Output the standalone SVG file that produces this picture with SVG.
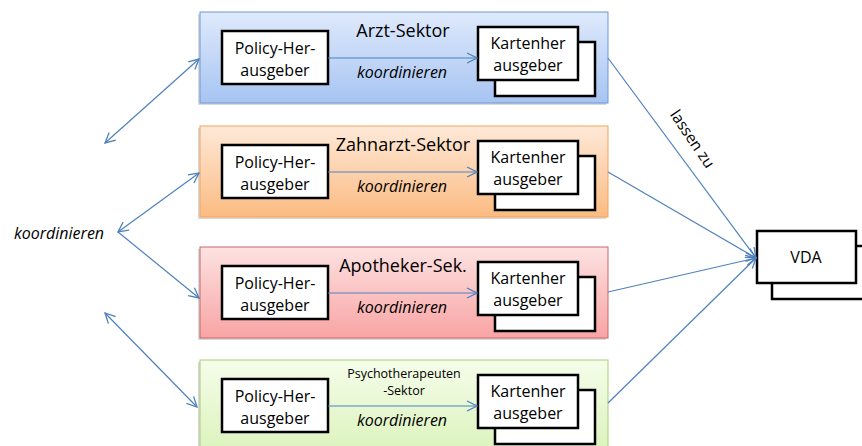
<svg xmlns="http://www.w3.org/2000/svg" width="862" height="446" viewBox="0 0 862 446">
<style>
text{font-family:"Open Sans","Liberation Sans",sans-serif;fill:#000}
.t{font-size:16px;text-anchor:middle}
.h{font-size:18px;text-anchor:middle}
.s{font-size:12.5px;text-anchor:middle}
.k{font-size:16px;font-style:italic;text-anchor:middle}
.box{fill:#fff;stroke:#000;stroke-width:2.5}
.sh{fill:#000;opacity:0.15}
.c{fill:none;stroke:#4f81bd;stroke-width:1.2}
</style>
<defs>
<linearGradient id="gb" x1="0" y1="0" x2="0" y2="1"><stop offset="0" stop-color="#dfeafc"/><stop offset="1" stop-color="#a7c4f2"/></linearGradient>
<linearGradient id="go" x1="0" y1="0" x2="0" y2="1"><stop offset="0" stop-color="#fee9d8"/><stop offset="1" stop-color="#fbbb82"/></linearGradient>
<linearGradient id="gr" x1="0" y1="0" x2="0" y2="1"><stop offset="0" stop-color="#fde2e2"/><stop offset="1" stop-color="#f9a4a4"/></linearGradient>
<linearGradient id="gg" x1="0" y1="0" x2="0" y2="1"><stop offset="0" stop-color="#f5fdea"/><stop offset="1" stop-color="#dcf3bd"/></linearGradient>
<marker id="a" markerWidth="12" markerHeight="12" viewBox="0 0 12 12" refX="11" refY="6" orient="auto-start-reverse" markerUnits="userSpaceOnUse">
<path d="M1,1 L11,6 L1,11" fill="none" stroke="#4f81bd" stroke-width="1.3"/>
</marker>
</defs>

<g id="sector-arzt">
<rect class="sh" x="198" y="14" width="408" height="91"/>
<rect x="200" y="12" width="408" height="91" fill="url(#gb)" stroke="#6c97d8"/>
<text class="h" x="403" y="37">Arzt-Sektor</text>
<g id="policy-arzt"><rect class="box" x="222" y="31" width="106" height="53"/><text class="t" x="275" y="54">Policy-Her-</text><text class="t" x="275" y="76">ausgeber</text></g>
<g id="karten-arzt"><rect class="box" x="495" y="42" width="100" height="54"/><rect class="box" x="478" y="27" width="100" height="53"/><text class="t" x="528" y="49">Kartenher</text><text class="t" x="528" y="71">ausgeber</text></g>
<text class="k" x="402" y="78">koordinieren</text>
</g>

<g id="sector-zahnarzt">
<rect class="sh" x="198" y="128" width="408" height="91"/>
<rect x="200" y="126" width="408" height="91" fill="url(#go)" stroke="#f4a35b"/>
<text class="h" x="403" y="151">Zahnarzt-Sektor</text>
<g id="policy-zahnarzt"><rect class="box" x="222" y="145" width="106" height="53"/><text class="t" x="275" y="168">Policy-Her-</text><text class="t" x="275" y="190">ausgeber</text></g>
<g id="karten-zahnarzt"><rect class="box" x="495" y="156" width="100" height="54"/><rect class="box" x="478" y="141" width="100" height="53"/><text class="t" x="528" y="163">Kartenher</text><text class="t" x="528" y="185">ausgeber</text></g>
<text class="k" x="402" y="192">koordinieren</text>
</g>

<g id="sector-apotheker">
<rect class="sh" x="198" y="249" width="408" height="91"/>
<rect x="200" y="247" width="408" height="91" fill="url(#gr)" stroke="#c86666"/>
<text class="h" x="403" y="272">Apotheker-Sek.</text>
<g id="policy-apotheker"><rect class="box" x="222" y="266" width="106" height="53"/><text class="t" x="275" y="289">Policy-Her-</text><text class="t" x="275" y="311">ausgeber</text></g>
<g id="karten-apotheker"><rect class="box" x="495" y="277" width="100" height="54"/><rect class="box" x="478" y="262" width="100" height="53"/><text class="t" x="528" y="284">Kartenher</text><text class="t" x="528" y="306">ausgeber</text></g>
<text class="k" x="402" y="313">koordinieren</text>
</g>

<g id="sector-psycho">
<rect class="sh" x="198" y="362" width="408" height="91"/>
<rect x="200" y="360" width="408" height="91" fill="url(#gg)" stroke="#a8cc74"/>
<text class="s" x="404" y="378">Psychotherapeuten</text>
<text class="s" x="404" y="395">-Sektor</text>
<g id="policy-psycho"><rect class="box" x="222" y="379" width="106" height="53"/><text class="t" x="275" y="402">Policy-Her-</text><text class="t" x="275" y="424">ausgeber</text></g>
<g id="karten-psycho"><rect class="box" x="495" y="390" width="100" height="54"/><rect class="box" x="478" y="375" width="100" height="53"/><text class="t" x="528" y="397">Kartenher</text><text class="t" x="528" y="419">ausgeber</text></g>
<text class="k" x="402" y="426">koordinieren</text>
</g>

<g id="vda">
<rect class="box" x="772" y="246" width="100" height="53"/>
<rect class="box" x="757" y="231" width="99" height="52"/>
<text class="t" x="806" y="263">VDA</text>
</g>

<g id="koordinieren-left">
<text class="k" x="59" y="239">koordinieren</text>
</g>

<g id="connectors">
<line class="c" x1="328" y1="58" x2="477" y2="58" marker-end="url(#a)"/>
<line class="c" x1="328" y1="172" x2="477" y2="172" marker-end="url(#a)"/>
<line class="c" x1="328" y1="293" x2="477" y2="293" marker-end="url(#a)"/>
<line class="c" x1="328" y1="406" x2="477" y2="406" marker-end="url(#a)"/>
<line class="c" x1="608" y1="58" x2="756" y2="258" marker-end="url(#a)"/>
<line class="c" x1="608" y1="172" x2="756" y2="258" marker-end="url(#a)"/>
<line class="c" x1="608" y1="292" x2="756" y2="258" marker-end="url(#a)"/>
<line class="c" x1="608" y1="403" x2="756" y2="258" marker-end="url(#a)"/>
<line class="c" x1="105" y1="143" x2="199" y2="59" marker-start="url(#a)" marker-end="url(#a)"/>
<line class="c" x1="118" y1="232" x2="199" y2="173" marker-start="url(#a)" marker-end="url(#a)"/>
<line class="c" x1="118" y1="232" x2="199" y2="298" marker-end="url(#a)"/>
<line class="c" x1="105" y1="313" x2="197" y2="407" marker-start="url(#a)" marker-end="url(#a)"/>
<text font-size="15.5" text-anchor="middle" transform="translate(688,142) rotate(56)">lassen zu</text>
</g>
</svg>
